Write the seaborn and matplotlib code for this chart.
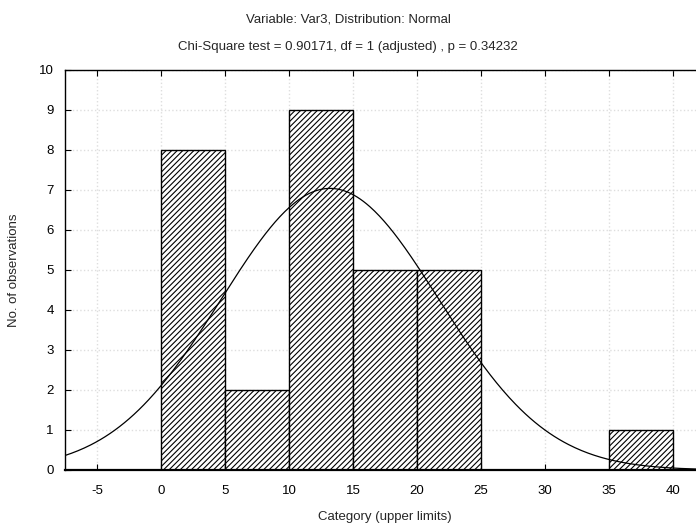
import numpy as np
import matplotlib
matplotlib.use("Agg")
import matplotlib.pyplot as plt
import seaborn as sns

# Data
bin_edges = [0, 5, 10, 15, 20, 25, 30, 35, 40]
counts = [8, 2, 9, 5, 5, 0, 0, 1]
fit_mean = 13.2
fit_sd = 8.5
n_obs = 30
bin_width = 5
x_ticks = [-5, 0, 5, 10, 15, 20, 25, 30, 35, 40]
y_ticks = [0, 1, 2, 3, 4, 5, 6, 7, 8, 9, 10]
title1 = "Variable: Var3, Distribution: Normal"
title2 = "Chi-Square test = 0.90171, df = 1 (adjusted) , p = 0.34232"

sns.set_theme(style="white")
plt.rcParams['font.family'] = ['Liberation Sans', 'DejaVu Sans']
plt.rcParams['hatch.linewidth'] = 0.8
plt.rcParams['axes.unicode_minus'] = False

fig = plt.figure(figsize=(6.96, 5.27), dpi=100)
ax = fig.add_axes([65/696, 57/527, 640/696, 400/527])

mids = [(a + b) / 2 for a, b in zip(bin_edges[:-1], bin_edges[1:])]
sns.histplot(x=mids, weights=counts, bins=bin_edges, ax=ax,
             color="white", edgecolor="black", linewidth=1.0, alpha=1, zorder=2)
for p in ax.patches:
    if p.get_height() > 0:
        p.set_hatch("//////")
    else:
        p.set_visible(False)

xs = np.linspace(-7.5, 42.5, 400)
ys = n_obs * bin_width * np.exp(-0.5 * ((xs - fit_mean) / fit_sd) ** 2) / (fit_sd * np.sqrt(2 * np.pi))
sns.lineplot(x=xs, y=ys, ax=ax, color="black", linewidth=0.9, zorder=3)

ax.set_xlim(-7.5, 42.5)
ax.set_ylim(0, 10)
ax.set_xticks(x_ticks)
ax.set_yticks(y_ticks)
ax.grid(True, color="#dedede", linestyle=":", linewidth=1.0, zorder=0)
ax.set_axisbelow(True)
ax.tick_params(direction="in", length=4, width=0.8, colors="black", labelsize=9.5,
               top=True, right=False, bottom=True, left=True)
ax.tick_params(axis="x", pad=11)
ax.tick_params(axis="y", pad=8)
for s in ax.spines.values():
    s.set_color("black")
    s.set_linewidth(1.0)
ax.spines['right'].set_visible(False)
ax.spines['bottom'].set_linewidth(1.6)

ax.set_xlabel("Category (upper limits)", fontsize=9.5, labelpad=10)
ax.set_ylabel("No. of observations", fontsize=9.5, labelpad=14)
fig.text(0.5, 1 - 19/527, title1, ha="center", va="center", fontsize=9.5)
fig.text(0.5, 1 - 47/527, title2, ha="center", va="center", fontsize=9.5)

fig.savefig("out.png", dpi=100)
